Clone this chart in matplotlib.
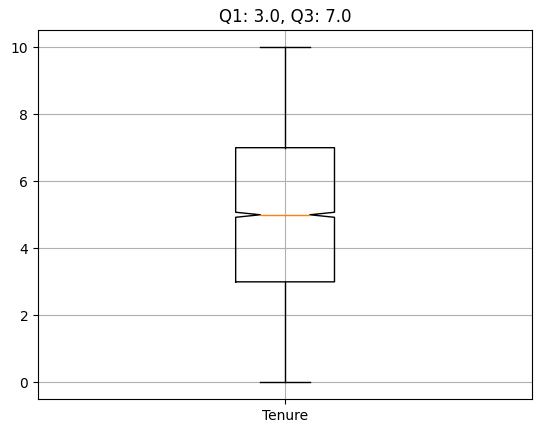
import matplotlib
matplotlib.use("Agg")
import matplotlib.pyplot as plt

label = "Tenure"
q1 = 3.0
q3 = 7.0
median = 5.0
whisker_low = 0.0
whisker_high = 10.0
ci_low = 4.925
ci_high = 5.075

stats = [dict(label=label, med=median, q1=q1, q3=q3, whislo=whisker_low,
              whishi=whisker_high, cilo=ci_low, cihi=ci_high, fliers=[])]

fig, ax = plt.subplots(figsize=(5.43, 4.33), dpi=100)
fig.subplots_adjust(left=0.07, right=0.98, top=0.93, bottom=0.078)
ax.bxp(stats, shownotches=True, widths=0.2)
ax.grid(True)
ax.set_title(f"Q1: {q1}, Q3: {q3}")
fig.savefig("out.png", dpi=100)
